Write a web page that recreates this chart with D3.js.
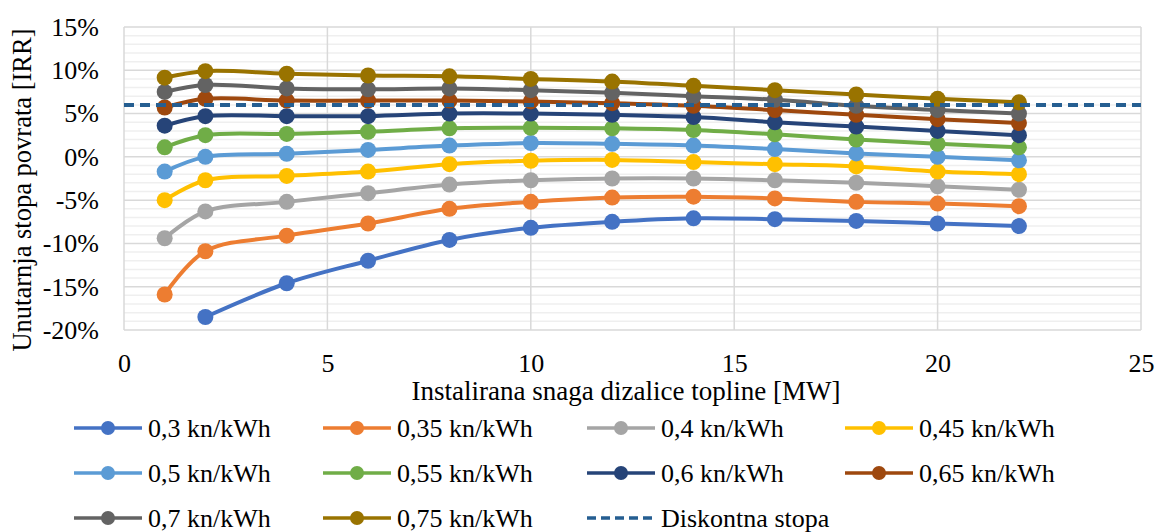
<!DOCTYPE html>
<html>
<head>
<meta charset="utf-8">
<script src="https://cdn.jsdelivr.net/npm/d3@7"></script>
<style>
  html, body { margin: 0; padding: 0; background: #fff; }
  text { font-family: "Liberation Serif", "Times New Roman", serif; fill: #000; }
</style>
</head>
<body>
<svg id="chart" width="1156" height="532"></svg>
<script>
// ---- data ----
const xValues = [1, 2, 4, 6, 8, 10, 12, 14, 16, 18, 20, 22];
const seriesNames = ["0,3 kn/kWh", "0,35 kn/kWh", "0,4 kn/kWh", "0,45 kn/kWh", "0,5 kn/kWh",
                     "0,55 kn/kWh", "0,6 kn/kWh", "0,65 kn/kWh", "0,7 kn/kWh", "0,75 kn/kWh"];
const irr030 = [null, -18.5, -14.6, -12.0, -9.6, -8.2, -7.5, -7.1, -7.2, -7.4, -7.7, -8.0];
const irr035 = [-15.9, -10.9, -9.1, -7.7, -6.0, -5.2, -4.7, -4.6, -4.8, -5.2, -5.4, -5.7];
const irr040 = [-9.4, -6.3, -5.2, -4.2, -3.2, -2.7, -2.5, -2.5, -2.7, -3.0, -3.4, -3.8];
const irr045 = [-5.0, -2.7, -2.2, -1.7, -0.85, -0.45, -0.35, -0.6, -0.85, -1.1, -1.7, -2.0];
const irr050 = [-1.7, 0.0, 0.35, 0.8, 1.3, 1.6, 1.5, 1.3, 0.9, 0.4, 0.0, -0.4];
const irr055 = [1.1, 2.5, 2.65, 2.9, 3.3, 3.35, 3.3, 3.1, 2.6, 2.0, 1.5, 1.1];
const irr060 = [3.6, 4.7, 4.7, 4.7, 5.0, 5.0, 4.85, 4.6, 4.0, 3.5, 3.0, 2.5];
const irr065 = [5.7, 6.7, 6.5, 6.5, 6.5, 6.4, 6.2, 5.9, 5.4, 4.85, 4.35, 3.9];
const irr070 = [7.5, 8.3, 7.9, 7.8, 7.9, 7.7, 7.4, 7.0, 6.6, 5.9, 5.4, 5.0];
const irr075 = [9.15, 9.9, 9.6, 9.4, 9.3, 9.0, 8.7, 8.2, 7.7, 7.2, 6.7, 6.3];
const discountName = "Diskontna stopa";
const discountX = [0, 25];
const discountY = [6, 6];
const yTicks = [-20, -15, -10, -5, 0, 5, 10, 15];
const xTicks = [0, 5, 10, 15, 20, 25];
const xTitle = "Instalirana snaga dizalice topline [MW]";
const yTitle = "Unutarnja stopa povrata [IRR]";

const seriesValues = [irr030, irr035, irr040, irr045, irr050, irr055, irr060, irr065, irr070, irr075];
const colors = ["#4472C4", "#ED7D31", "#A5A5A5", "#FFC000", "#5B9BD5",
                "#70AD47", "#264478", "#9E480E", "#636363", "#997300"];
const discountColor = "#255E91";

// ---- layout ----
const svg = d3.select("#chart");
const plot = { left: 124, right: 1141, top: 27, bottom: 330 };
const x = d3.scaleLinear().domain([0, 25]).range([plot.left, plot.right]);
const y = d3.scaleLinear().domain([-20, 15]).range([plot.bottom, plot.top]);
const FS = 26;
const FONT = "Liberation Serif";

svg.append("rect").attr("width", 1156).attr("height", 532).attr("fill", "#fff");

// minor horizontal gridlines (every 1%)
const g = svg.append("g");
g.selectAll("line.minor").data(d3.range(-20, 16, 1).filter(v => v % 5 !== 0)).join("line")
  .attr("x1", plot.left).attr("x2", plot.right)
  .attr("y1", d => y(d)).attr("y2", d => y(d))
  .attr("stroke", "#EFEFEF").attr("stroke-width", 1.5);
// major horizontal
svg.append("g").selectAll("line").data(yTicks).join("line")
  .attr("x1", plot.left).attr("x2", plot.right)
  .attr("y1", d => y(d)).attr("y2", d => y(d))
  .attr("stroke", "#D9D9D9").attr("stroke-width", 1.5);
// major vertical
svg.append("g").selectAll("line").data(xTicks).join("line")
  .attr("x1", d => x(d)).attr("x2", d => x(d))
  .attr("y1", plot.top).attr("y2", plot.bottom)
  .attr("stroke", "#D9D9D9").attr("stroke-width", 1.5);

// axes labels via d3 axes
const yAxis = svg.append("g").attr("transform", `translate(${plot.left},0)`)
  .call(d3.axisLeft(y).tickValues(yTicks).tickSize(0).tickPadding(25).tickFormat(d => d + "%"));
yAxis.attr("font-family", FONT);
yAxis.select(".domain").remove();
yAxis.selectAll("text").attr("font-size", FS).style("font-family", FONT).attr("fill", "#000");

const xAxis = svg.append("g").attr("transform", `translate(0,${plot.bottom})`)
  .call(d3.axisBottom(x).tickValues(xTicks).tickSize(0).tickPadding(42).tickFormat(d3.format("d")));
xAxis.attr("font-family", FONT);
xAxis.select(".domain").remove();
xAxis.selectAll("text").attr("font-size", FS).style("font-family", FONT).attr("fill", "#000")
  .attr("dy", "0");

// titles
svg.append("text").attr("x", 626).attr("y", 400).attr("text-anchor", "middle")
  .attr("font-size", 27).style("font-family", FONT).text(xTitle);
svg.append("text").attr("transform", "translate(31,190) rotate(-90)").attr("text-anchor", "middle")
  .attr("font-size", 26.5).style("font-family", FONT).text(yTitle);

// series
const line = d3.line()
  .defined(d => d[1] !== null)
  .x(d => x(d[0])).y(d => y(d[1]))
  .curve(d3.curveCatmullRom.alpha(0.5));

seriesValues.forEach((vals, i) => {
  const pts = xValues.map((xv, j) => [xv, vals[j]]).filter(d => d[1] !== null);
  const sg = svg.append("g");
  sg.append("path").datum(pts).attr("d", line)
    .attr("fill", "none").attr("stroke", colors[i]).attr("stroke-width", 4)
    .attr("stroke-linejoin", "round").attr("stroke-linecap", "round");
  sg.selectAll("circle").data(pts).join("circle")
    .attr("cx", d => x(d[0])).attr("cy", d => y(d[1])).attr("r", 8)
    .attr("fill", colors[i]);
});

// discount line
svg.append("path").datum(discountX.map((xv, j) => [xv, discountY[j]]))
  .attr("d", d3.line().x(d => x(d[0])).y(d => y(d[1])))
  .attr("fill", "none").attr("stroke", discountColor).attr("stroke-width", 4)
  .attr("stroke-dasharray", "10,6");

// legend
const legendCols = [74, 323, 587, 845];
const legendRows = [428, 473, 518];
const entries = seriesNames.map((n, i) => ({ name: n, color: colors[i], dash: false }))
  .concat([{ name: discountName, color: discountColor, dash: true }]);
entries.forEach((e, i) => {
  const cx = legendCols[i % 4], cy = legendRows[Math.floor(i / 4)];
  const lg = svg.append("g");
  lg.append("line").attr("x1", cx).attr("x2", cx + 68).attr("y1", cy).attr("y2", cy)
    .attr("stroke", e.color).attr("stroke-width", 3.5)
    .attr("stroke-dasharray", e.dash ? "9,5" : null);
  if (!e.dash) lg.append("circle").attr("cx", cx + 34).attr("cy", cy).attr("r", 7).attr("fill", e.color);
  lg.append("text").attr("x", cx + 74).attr("y", cy).attr("dy", "0.35em")
    .attr("font-size", FS).style("font-family", FONT).text(e.name);
});
</script>
</body>
</html>
